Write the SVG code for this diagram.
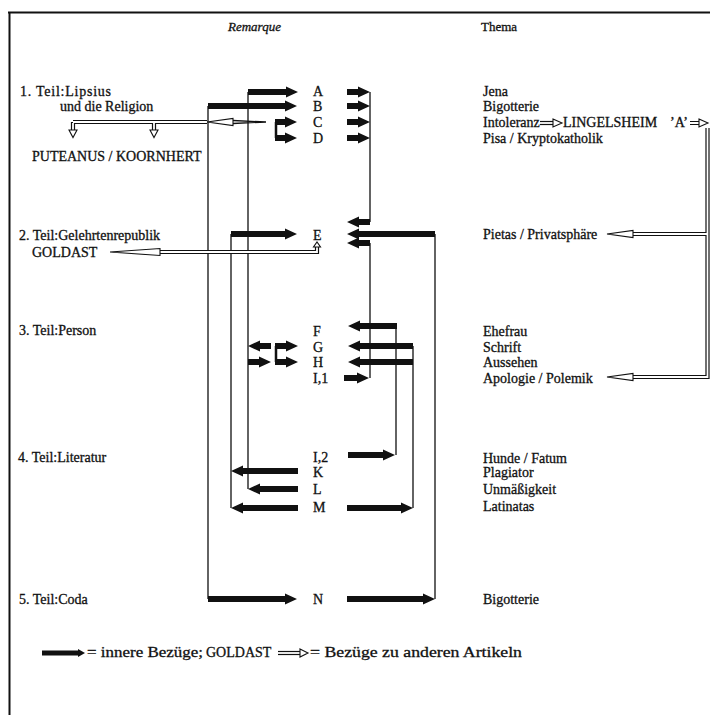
<svg xmlns="http://www.w3.org/2000/svg" width="710" height="715" viewBox="0 0 710 715">
<style>
text{font-family:"Liberation Serif","Times New Roman",serif;font-size:14px;fill:#111;stroke:#111;stroke-width:0.3}
.hd{font-size:13px}
.it{font-style:italic}
.lg{font-size:15px}
.ln{stroke:#111;stroke-width:1.3;fill:none}
.br{stroke:#111;stroke-width:2.5;fill:none}
.dl{stroke:#111;stroke-width:4.2;fill:none}
.dw{stroke:#fff;stroke-width:1.8;fill:none}
.hh{fill:#fff;stroke:#111;stroke-width:1.1}
.fr{stroke:#111;stroke-width:2;fill:none}
</style>
<rect width="710" height="715" fill="#fff"/>
<g id="frame"><path class="fr" d="M8 12.5H710M9.5 12V715"/></g>
<g id="headers">
<text class="hd it" x="228" y="31">Remarque</text>
<text class="hd" x="481" y="31">Thema</text>
</g>
<g id="sections">
<g id="teil1"><text x="20" y="96" textLength="91" lengthAdjust="spacing">1. Teil:Lipsius</text><text x="60" y="111">und die Religion</text></g>
<g id="puteanus"><text x="32" y="161">PUTEANUS / KOORNHERT</text></g>
<g id="teil2"><text x="19" y="240">2. Teil:Gelehrtenrepublik</text></g>
<g id="goldast"><text x="32" y="257">GOLDAST</text></g>
<g id="teil3"><text x="19" y="335">3. Teil:Person</text></g>
<g id="teil4"><text x="18" y="462">4. Teil:Literatur</text></g>
<g id="teil5"><text x="19" y="604">5. Teil:Coda</text></g>
</g>
<g id="letters">
<g id="nA"><text x="313" y="96">A</text></g>
<g id="nB"><text x="313" y="111">B</text></g>
<g id="nC"><text x="313" y="127">C</text></g>
<g id="nD"><text x="313" y="143">D</text></g>
<g id="nE"><text x="313" y="240">E</text></g>
<g id="nF"><text x="313" y="336">F</text></g>
<g id="nG"><text x="313" y="352">G</text></g>
<g id="nH"><text x="313" y="367">H</text></g>
<g id="nI1"><text x="313" y="383">I,1</text></g>
<g id="nI2"><text x="313" y="462">I,2</text></g>
<g id="nK"><text x="313" y="477">K</text></g>
<g id="nL"><text x="313" y="494">L</text></g>
<g id="nM"><text x="313" y="512">M</text></g>
<g id="nN"><text x="313" y="604">N</text></g>
</g>
<g id="themes">
<g id="tJena"><text x="483" y="96">Jena</text></g>
<g id="tBig1"><text x="483" y="111">Bigotterie</text></g>
<g id="tInt"><text x="483" y="127">Intoleranz</text></g>
<g id="tLing"><text x="563" y="127">LINGELSHEIM</text><text x="670" y="127">’A’</text></g>
<g id="tPisa"><text x="483" y="143">Pisa / Kryptokatholik</text></g>
<g id="tPietas"><text x="483" y="239">Pietas / Privatsphäre</text></g>
<g id="tEhe"><text x="483" y="336">Ehefrau</text></g>
<g id="tSchrift"><text x="483" y="352">Schrift</text></g>
<g id="tAus"><text x="483" y="367">Aussehen</text></g>
<g id="tApo"><text x="483" y="383">Apologie / Polemik</text></g>
<g id="tHunde"><text x="483" y="463">Hunde / Fatum</text></g>
<g id="tPlag"><text x="483" y="477">Plagiator</text></g>
<g id="tUnm"><text x="483" y="494">Unmäßigkeit</text></g>
<g id="tLat"><text x="483" y="511">Latinatas</text></g>
<g id="tBig2"><text x="483" y="604">Bigotterie</text></g>
</g>
<g id="connectors">
<g id="thin">
<path class="ln" d="M248 92V489M208 106V599M231 234V508M370 92V222M370 243V378M435 234V599M396 326V455M413 346V508"/>
<path class="br" d="M276 122V138M276 346V362"/>
</g>
<g id="thick" fill="#111">
<path d="M248 89H286V86.5L298 92L286 97.5V95H248Z"/>
<path d="M208 103H285V100.5L297 106L285 111.5V109H208Z"/>
<path d="M275 119H285V116.5L297 122L285 127.5V125H275Z"/>
<path d="M275 135H285V132.5L297 138L285 143.5V141H275Z"/>
<path d="M347 89H358V86.5L370 92L358 97.5V95H347Z"/>
<path d="M347 103H358V100.5L370 106L358 111.5V109H347Z"/>
<path d="M347 119H358V116.5L370 122L358 127.5V125H347Z"/>
<path d="M347 135H358V132.5L370 138L358 143.5V141H347Z"/>
<path d="M231 231H285V228.5L297 234L285 239.5V237H231Z"/>
<path d="M370 219H359V216.5L347 222L359 227.5V225H370Z"/>
<path d="M435 231H359V228.5L347 234L359 239.5V237H435Z"/>
<path d="M370 240H359V237.5L347 243L359 248.5V246H370Z"/>
<path d="M397 323H360V320.5L348 326L360 331.5V329H397Z"/>
<path d="M413 343H360V340.5L348 346L360 351.5V349H413Z"/>
<path d="M413 359H360V356.5L348 362L360 367.5V365H413Z"/>
<path d="M344 375H357V372.5L369 378L357 383.5V381H344Z"/>
<path d="M271 343H260V340.5L248 346L260 351.5V349H271Z"/>
<path d="M248 359H259V356.5L271 362L259 367.5V365H248Z"/>
<path d="M275 343H286V340.5L298 346L286 351.5V349H275Z"/>
<path d="M275 359H286V356.5L298 362L286 367.5V365H275Z"/>
<path d="M348 452H383V449.5L395 455L383 460.5V458H348Z"/>
<path d="M298 468H243V465.5L231 471L243 476.5V474H298Z"/>
<path d="M298 486H260V483.5L248 489L260 494.5V492H298Z"/>
<path d="M298 505H243V502.5L231 508L243 513.5V511H298Z"/>
<path d="M347 505H401V502.5L413 508L401 513.5V511H347Z"/>
<path d="M208 596H285V593.5L297 599L285 604.5V602H208Z"/>
<path d="M347 596H423V593.5L435 599L423 604.5V602H347Z"/>
</g>
<g id="hollow">
<path class="dl" d="M73 122H207M154 122V130M73 122V130"/>
<path class="dw" d="M73 122H207M154 123V130M73 123V130"/>
<path class="hh" d="M207 122L233 118.5V125.5Z"/>
<path class="ln" d="M233 120.5L266 122M233 123.5L266 122" stroke-width="1"/>
<path class="hh" d="M69 130H77L73 137.5Z"/>
<path class="hh" d="M150 130H158L154 137.5Z"/>
<path class="dl" d="M160 252H317V247"/>
<path class="dw" d="M160 252H317V247"/>
<path class="hh" d="M110 252L160 248.5V255.5Z"/>
<path class="hh" d="M313.5 247H320.5L317 242Z"/>
<path class="dl" d="M540 123H553"/>
<path class="dw" d="M540 123H553"/>
<path class="hh" d="M553 119L562 123L553 127Z"/>
<path class="dl" d="M690 123H699M707.5 128V377H633M707.5 234H633"/>
<path class="dw" d="M690 123H699M707.5 128V377H633M707.5 234H633"/>
<path class="hh" d="M699 119L708 123L699 127Z"/>
<path class="hh" d="M607 234L633 230.5V237.5Z"/>
<path class="hh" d="M607 377L633 373.5V380.5Z"/>
</g>
</g>
<g id="legend">
<path d="M42 650.5H78V649L85 653L78 657V655.5H42Z" fill="#111"/>
<text class="lg" x="87" y="657" textLength="116" lengthAdjust="spacingAndGlyphs">= innere Bezüge;</text>
<text x="206" y="657">GOLDAST</text>
<path class="dl" d="M278 653H300"/>
<path class="dw" d="M278 653H300"/>
<path class="hh" d="M300 649L308 653L300 657Z"/>
<text class="lg" x="310" y="657" textLength="212" lengthAdjust="spacingAndGlyphs">= Bezüge zu anderen Artikeln</text>
</g>
</svg>
